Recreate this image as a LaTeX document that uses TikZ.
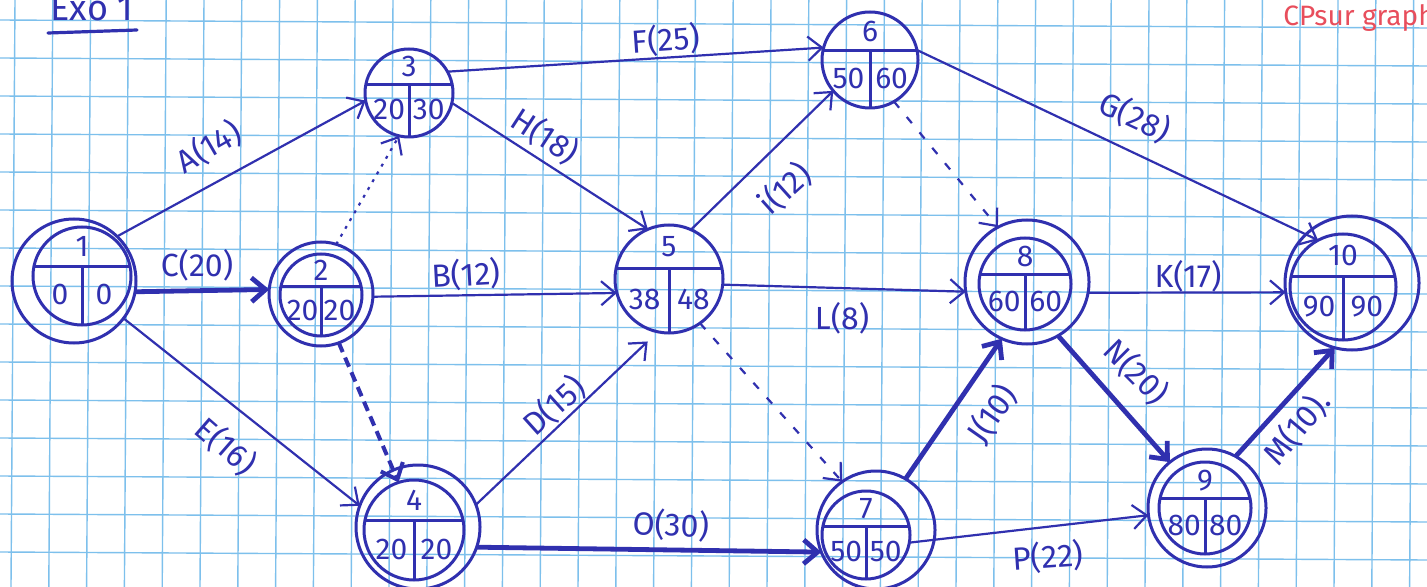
\documentclass[tikz,border=0pt]{standalone}
\usepackage{fontspec}
\setmainfont{Fira Sans}
\usetikzlibrary{arrows.meta,calc}

\definecolor{ink}{RGB}{48,48,175}
\definecolor{gridblue}{RGB}{125,192,236}
\definecolor{redink}{RGB}{232,78,92}

\newcommand\numfont{\fontsize{15}{15}\selectfont}
\newcommand\labfont{\fontsize{16}{16}\selectfont}

\tikzset{
  grid line/.style={draw=gridblue, line width=0.7pt},
  ring/.style={draw=ink, line width=1.5pt},
  evtc/.style={circle, draw=ink, line width=1.5pt, inner sep=0pt, outer sep=0pt},
  num/.style={font=\numfont, text=ink, inner sep=0pt},
  act/.style={draw=ink, line width=1.1pt, -{Straight Barb[length=7pt,width=12pt]}},
  crit/.style={act, line width=2.4pt},
  dotarrow/.style={act, dash pattern=on 1.5pt off 3pt},
  dummy/.style={act, dash pattern=on 4pt off 6pt},
  critdummy/.style={act, line width=2pt, dash pattern=on 5pt off 3pt},
  lab/.style={font=\labfont, text=ink, inner sep=0pt},
}

% event circle: #1 name, #2 centre of the divided circle, #3 its radius,
% #4 radius of the outer ring (0 = none), #5 shift of that ring,
% #6 event number, #7 earliest date, #8 latest date
\newcommand\evt[8]{%
  \pgfmathsetmacro\evtd{#3}%
  \ifnum#4=0
    \node[evtc, minimum size=\evtd pt] (#1) at (#2) {};
  \else
    \node[evtc, minimum size=\evtd pt] (#1i) at (#2) {};
    \node[evtc, minimum size=#4pt] (#1) at ($(#2)+(#5)$) {};
  \fi
  \begin{scope}[shift={(#2)}]
    \draw[ring] ({-0.97*#3},{-0.2*#3}) -- ({0.97*#3},{-0.2*#3});
    \draw[ring] (0,{-0.2*#3}) -- (0,{#3});
    \node[num] (#1n) at (0,{-0.6*#3}) {#6};
    \node[num] (#1e) at ({-0.45*#3},{0.38*#3}) {#7};
    \node[num] (#1l) at ({0.45*#3},{0.38*#3}) {#8};
  \end{scope}
}

\begin{document}
\begin{tikzpicture}[x=0.5pt, y=-0.5pt]
  \useasboundingbox (0,0) rectangle (1427,587);
  \clip (0,0) rectangle (1427,587);
  \fill[white] (0,0) rectangle (1427,587);

  % squared paper
  \foreach \k in {0,...,37}
    \draw[grid line] ({15+37.8*\k},0) -- ({11+37.8*\k},587);
  \foreach \j in {0,...,15}
    \draw[grid line] (0,{20+38*\j}) -- (1427,{28+38*\j});

  % headings
  \node[font=\fontsize{18}{18}\selectfont, text=ink, inner sep=0pt] (title) at (92,8) {Exo 1};
  \draw[ink, line width=1.6pt, line cap=round] (48,33) -- (137,30);
  \node[font=\fontsize{14}{14}\selectfont, text=redink, anchor=west, inner sep=0pt] (cp) at (1283,18) {CPsur graph};

  % events
  \evt{n1}{82,276}{49}{62}{-8,5}{1}{0}{0}
  \evt{n2}{321,295}{41}{52}{0,-1}{2}{20}{20}
  \evt{n3}{409,93}{44}{0}{0,0}{3}{20}{30}
  \evt{n4}{414,530}{50}{62}{4,-3}{4}{20}{20}
  \evt{n5}{669,279}{54}{0}{0,0}{5}{38}{48}
  \evt{n6}{870,60}{48}{0}{0,0}{6}{50}{60}
  \evt{n7}{866,535}{44}{59}{10,-5}{7}{50}{50}
  \evt{n8}{1025,284}{46}{62}{2,-2}{8}{60}{60}
  \evt{n9}{1205,508}{46}{59}{2,0}{9}{80}{80}
  \evt{n10}{1343,287}{53}{67}{9,-4}{10}{90}{90}

  % activities
  \draw[act] (n1.46) -- (n3.190);
  \draw[crit] (n1.-10) -- (n2.175);
  \draw[act] (n1.-37) -- (n4.160);
  \draw[dotarrow] (n2.73) -- (n3.-103);
  \draw[critdummy] (n2.-70) -- (n4i.108);
  \draw[act] (n2.-3) -- (n5.195);
  \draw[act] (n3.-13) -- (n5.113);
  \draw[act] (n3.29) -- (n6.165);
  \draw[act] (n5.66) -- (n6.220);
  \draw[act] (n6.12) -- (n10i.118);
  \draw[act] (n5.-6) -- (n8.189);
  \draw[dummy] (n6.-60) -- (n8.118);
  \draw[dummy] (n5.-55) -- (n7.125);
  \draw[act] (n8.-10) -- (n10.188);
  \draw[act, shorten >=7pt] (n4.21) -- (n5.258);
  \draw[crit] (n4.-19) -- (n7.202);
  \draw[crit] (n7.60) -- (n8.246);
  \draw[crit] (n8.-60) -- (n9.129);
  \draw[crit] (n9.61) -- (n10.255);
  \draw[act] (n7i.-10) -- (n9.187);

  % activity labels
  \node[lab, rotate=30] (lA) at (209,147) {A(14)};
  \node[lab] (lC) at (197,265) {C(20)};
  \node[lab, rotate=-41] (lE) at (226,446) {E(16)};
  \node[lab, rotate=3] (lB) at (466,275) {B(12)};
  \node[lab, rotate=-33] (lH) at (545,136) {H(18)};
  \node[lab, rotate=4] (lF) at (666,40) {F(25)};
  \node[lab, rotate=42] (lI) at (785,189) {i(12)};
  \node[lab, rotate=-25] (lG) at (1135,117) {G(28)};
  \node[lab] (lL) at (842,318) {L(8)};
  \node[lab] (lK) at (1188,276) {K(17)};
  \node[lab, rotate=42] (lD) at (554,406) {D(15)};
  \node[lab, rotate=-3] (lO) at (671,525) {O(30)};
  \node[lab, rotate=4] (lP) at (1048,557) {P(22)};
  \node[lab, rotate=55] (lJ) at (992,414) {J(10)};
  \node[lab, rotate=-45] (lN) at (1136,372) {N(20)};
  \node[lab, rotate=50] (lM) at (1297,428) {M(10).};
\end{tikzpicture}
\end{document}
